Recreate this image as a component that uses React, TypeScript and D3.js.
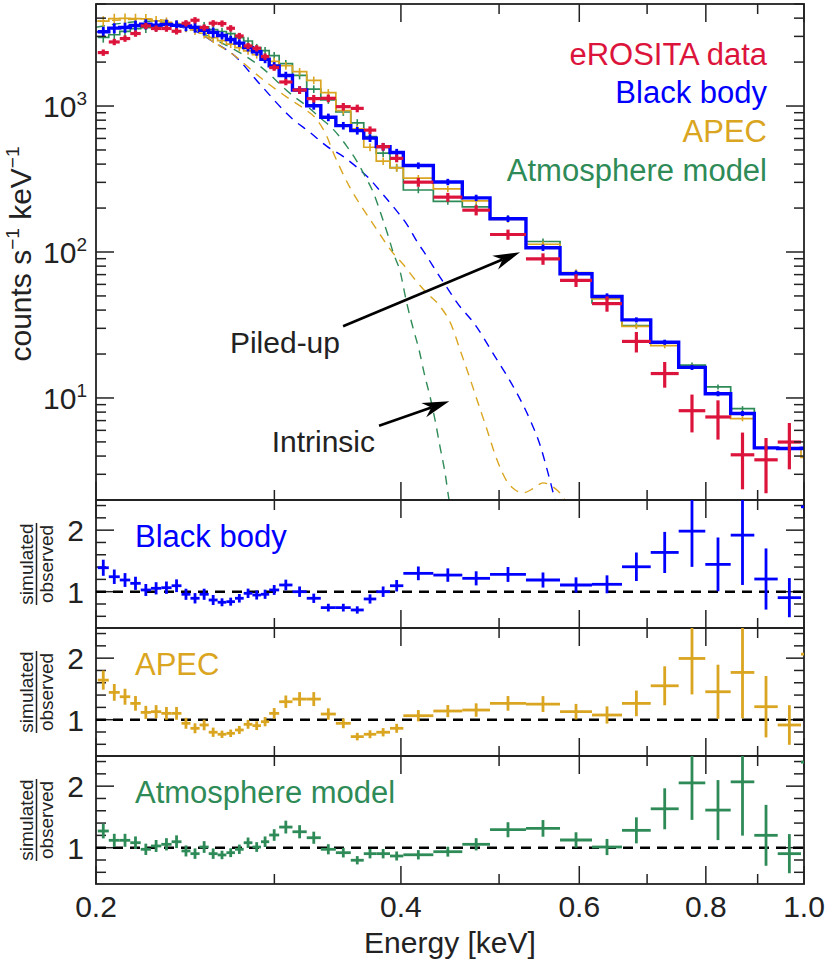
import React, { useEffect, useRef } from 'react';
import * as d3 from 'd3';

// energy bin edges in keV (43 bins, the last one runs past 1 keV and is clipped)
const binEdges = [0.2008, 0.2059, 0.2111, 0.2162, 0.2214, 0.2266, 0.2320, 0.2375, 0.2429, 0.2479, 0.2531, 0.2584, 0.2637, 0.2690, 0.2743, 0.2798, 0.2854, 0.2910, 0.2965, 0.3033, 0.3126, 0.3229, 0.3334, 0.3450, 0.3569, 0.3676, 0.3782, 0.3902, 0.4022, 0.4306, 0.4599, 0.4898, 0.5315, 0.5743, 0.6176, 0.6612, 0.7058, 0.7521, 0.7990, 0.8465, 0.8932, 0.9420, 0.9932, 1.0513];

// eROSITA counts s^-1 keV^-1 and relative errors
const observed = [2323, 2748, 2899, 3138, 3538, 3396, 3396, 3253, 3692, 3871, 3450, 3692, 3674, 3411, 3020, 2580, 2487, 2182, 1834, 1461, 1287, 1124, 1130, 990, 964, 684, 527, 438, 301, 237.6, 193.5, 131.8, 89.8, 64.0, 44.3, 24.4, 14.7, 8.18, 7.41, 4.08, 3.77, 4.99, 1.9];
const obsErr = [0.05, 0.05, 0.05, 0.05, 0.05, 0.05, 0.05, 0.05, 0.05, 0.05, 0.05, 0.05, 0.05, 0.05, 0.05, 0.05, 0.05, 0.05, 0.05, 0.05, 0.06, 0.06, 0.06, 0.06, 0.06, 0.06, 0.06, 0.06, 0.07, 0.07, 0.08, 0.08, 0.09, 0.10, 0.12, 0.16, 0.20, 0.29, 0.30, 0.42, 0.41, 0.35, 0.45];

// simulated (piled-up) spectra
const bbModel = [3227, 3416, 3450, 3565, 3637, 3583, 3617, 3569, 3537, 3457, 3305, 3194, 3042, 2858, 2697, 2513, 2353, 2090, 1885, 1620, 1287, 1004, 837, 734, 678, 603, 527, 480, 391, 302, 235, 169, 107, 71.0, 49.6, 34.3, 24.1, 16.2, 10.7, 7.83, 4.55, 4.51, 4.52];
const apecModel = [3817, 3968, 3980, 3970, 3959, 3837, 3746, 3588, 3474, 3329, 3153, 2939, 2803, 2657, 2516, 2387, 2246, 2112, 2023, 1888, 1718, 1501, 1234, 932, 699, 522, 419, 377, 321, 271, 224, 167, 113, 72.3, 47.7, 30.9, 22.8, 16.3, 10.8, 7.21, 4.57, 4.56, 3.92];
const atmModel = [2953, 3078, 3247, 3392, 3446, 3491, 3583, 3569, 3496, 3496, 3488, 3334, 3240, 3135, 2941, 2789, 2514, 2394, 2212, 1950, 1620, 1306, 1101, 910, 767, 618, 476, 379, 266, 222, 204, 170, 118, 72.0, 44.8, 31.3, 24.0, 16.8, 11.9, 8.45, 4.53, 4.51, 4.54];
const simErr = [0.08, 0.08, 0.08, 0.08, 0.08, 0.08, 0.08, 0.08, 0.08, 0.08, 0.08, 0.08, 0.06, 0.06, 0.06, 0.06, 0.06, 0.06, 0.06, 0.06, 0.06, 0.06, 0.06, 0.06, 0.06, 0.06, 0.06, 0.06, 0.05, 0.05, 0.05, 0.05, 0.05, 0.05, 0.05, 0.04, 0.04, 0.04, 0.04, 0.04, 0.04, 0.04, 0.04];

// simulated / observed
const bbRatio = [1.389, 1.243, 1.190, 1.136, 1.028, 1.055, 1.065, 1.097, 0.958, 0.893, 0.958, 0.865, 0.828, 0.838, 0.893, 0.974, 0.946, 0.958, 1.028, 1.109, 1.000, 0.893, 0.741, 0.741, 0.703, 0.882, 1.000, 1.097, 1.298, 1.270, 1.217, 1.280, 1.190, 1.109, 1.120, 1.405, 1.638, 1.984, 1.444, 1.919, 1.206, 0.903, 2.380];
const apecRatio = [1.643, 1.444, 1.373, 1.265, 1.119, 1.130, 1.103, 1.103, 0.941, 0.860, 0.914, 0.796, 0.763, 0.779, 0.833, 0.925, 0.903, 0.968, 1.103, 1.292, 1.335, 1.335, 1.092, 0.941, 0.725, 0.763, 0.796, 0.860, 1.065, 1.141, 1.157, 1.265, 1.254, 1.130, 1.076, 1.265, 1.551, 1.995, 1.454, 1.768, 1.211, 0.914, 2.065];
const atmRatio = [1.271, 1.120, 1.120, 1.081, 0.974, 1.028, 1.055, 1.097, 0.947, 0.903, 1.011, 0.903, 0.882, 0.919, 0.974, 1.081, 1.011, 1.097, 1.206, 1.335, 1.259, 1.162, 0.974, 0.919, 0.796, 0.903, 0.903, 0.865, 0.885, 0.935, 1.055, 1.292, 1.314, 1.125, 1.011, 1.282, 1.632, 2.053, 1.611, 2.070, 1.201, 0.903, 2.390];

// intrinsic (not piled-up) model curves
const bbIntrE = [0.200, 0.226, 0.248, 0.2615, 0.2737, 0.2904, 0.313, 0.3253, 0.3381, 0.3507, 0.362, 0.3729, 0.384, 0.3965, 0.4056, 0.4149, 0.4244, 0.4342, 0.4442, 0.4544, 0.4734, 0.4954, 0.5184, 0.5364, 0.5487, 0.5588, 0.5678, 0.5808];
const bbIntrV = [3203, 3634, 3358, 2735, 2227, 1409, 810, 660, 529, 452, 380, 314, 248, 190, 154, 118, 93.1, 72.3, 57.1, 45.0, 31.8, 19.2, 11.4, 7.10, 4.78, 3.07, 2.01, 1.25];
const apecIntrE = [0.200, 0.226, 0.248, 0.2615, 0.2737, 0.2904, 0.3108, 0.3216, 0.3303, 0.3379, 0.3430, 0.3496, 0.3563, 0.3645, 0.3729, 0.3814, 0.3917, 0.4022, 0.4130, 0.4241, 0.4372, 0.4493, 0.4575, 0.4659, 0.4755, 0.4865, 0.4976, 0.5102, 0.5184, 0.5279, 0.5401, 0.5525, 0.5652, 0.5782, 0.5875];
const apecIntrV = [3810, 3933, 3465, 2735, 2227, 1573, 1112, 949, 810, 623, 479, 358, 276, 212, 167, 132, 101, 82.1, 64.8, 52.5, 42.5, 30.8, 21.4, 14.9, 9.73, 6.06, 3.77, 2.62, 2.35, 2.24, 2.39, 2.62, 2.46, 2.10, 1.71];
const atmIntrE = [0.200, 0.226, 0.248, 0.2615, 0.2737, 0.2904, 0.3132, 0.3229, 0.3328, 0.3430, 0.3536, 0.3618, 0.3686, 0.3757, 0.3829, 0.3887, 0.3931, 0.3992, 0.4053, 0.4111, 0.4168, 0.4225, 0.4274, 0.4322, 0.4372, 0.4422, 0.4462, 0.4523];
const atmIntrV = [3465, 3810, 3465, 2867, 2448, 1872, 1171, 1000, 833, 692, 532, 420, 331, 255, 176, 128, 98.7, 73.8, 44.8, 30.3, 21.4, 14.0, 10.2, 7.10, 4.63, 3.07, 2.01, 1.25];

const xTicks = [0.2, 0.3, 0.4, 0.5, 0.6, 0.7, 0.8, 0.9, 1.0];
const xLabelTicks = [0.2, 0.4, 0.6, 0.8, 1.0];
const xTickLabels = ['0.2', '0.4', '0.6', '0.8', '1.0'];
const mainDecades = [1, 10, 100, 1000];
const ratioTicks = [0.6, 0.8, 1.0, 1.2, 1.4, 1.6, 1.8, 2.0, 2.2, 2.4];
const ratioLabelTicks = [1, 2];

const legendNames = ['eROSITA data', 'Black body', 'APEC', 'Atmosphere model'];

const RED = '#dc143c';
const BLUE = '#0000ff';
const GOLD = '#daa520';
const GREEN = '#2e8b57';
const INK = '#222';
const FONT = "'Liberation Sans', Arial, Helvetica, sans-serif";

const App: React.FC = () => {
    const ref = useRef<SVGSVGElement>(null);

    useEffect(() => {
        const svg = d3.select(ref.current);
        svg.selectAll('*').remove();

        const left = 96, right = 804;
        const mainTop = 4, mainBottom = 500;
        const resH = 128;
        const resTops = [500, 628, 756];

        const x = d3.scaleLog().domain([0.2, 1.0]).range([left, right]);
        const y = d3.scaleLog().domain([2, 5000]).range([mainBottom, mainTop]);

        const nBins = observed.length;
        const bins = d3.range(nBins).map(i => ({
            lo: binEdges[i],
            hi: binEdges[i + 1],
            mid: Math.sqrt(binEdges[i] * binEdges[i + 1]),
        }));

        const defs = svg.append('defs');
        const addClip = (id: string, y0: number, h: number) => {
            defs.append('clipPath').attr('id', id)
                .append('rect').attr('x', left).attr('y', y0).attr('width', right - left).attr('height', h);
        };
        addClip('clip-main', mainTop, mainBottom - mainTop);
        resTops.forEach((t, k) => addClip(`clip-res${k}`, t, resH));

        // ---------- main panel ----------
        const main = svg.append('g').attr('clip-path', 'url(#clip-main)');

        const curve = d3.line<[number, number]>()
            .x(d => x(d[0]))
            .y(d => y(d[1]))
            .curve(d3.curveMonotoneX);

        const dashed: [number[], number[], string][] = [
            [bbIntrE, bbIntrV, BLUE],
            [apecIntrE, apecIntrV, GOLD],
            [atmIntrE, atmIntrV, GREEN],
        ];
        dashed.forEach(([es, vs, c]) => {
            main.append('path')
                .attr('d', curve(es.map((e, i) => [e, vs[i]] as [number, number])))
                .attr('fill', 'none')
                .attr('stroke', c)
                .attr('stroke-width', 1.4)
                .attr('stroke-dasharray', '9,7');
        });

        const stepLine = d3.line<[number, number]>().x(d => x(d[0])).y(d => y(d[1]));
        const drawModel = (vals: number[], c: string, w: number, tickW: number) => {
            const pts: [number, number][] = [];
            bins.forEach((b, i) => { pts.push([b.lo, vals[i]]); pts.push([b.hi, vals[i]]); });
            main.append('path')
                .attr('d', stepLine(pts))
                .attr('fill', 'none')
                .attr('stroke', c)
                .attr('stroke-width', w)
                .attr('stroke-linejoin', 'miter');
            main.append('g').selectAll('line')
                .data(bins)
                .enter()
                .append('line')
                .attr('x1', d => x(d.mid))
                .attr('x2', d => x(d.mid))
                .attr('y1', (_, i) => y(vals[i] * (1 - simErr[i])))
                .attr('y2', (_, i) => y(vals[i] * (1 + simErr[i])))
                .attr('stroke', c)
                .attr('stroke-width', tickW);
        };
        drawModel(atmModel, GREEN, 1.7, 1.6);
        drawModel(apecModel, GOLD, 1.7, 1.6);
        drawModel(bbModel, BLUE, 3.4, 2.8);

        // observed data
        const obsG = main.append('g').attr('stroke', RED).attr('stroke-width', 3.2);
        obsG.selectAll('line.h')
            .data(bins)
            .enter()
            .append('line')
            .attr('class', 'h')
            .attr('x1', d => x(d.lo))
            .attr('x2', d => x(d.hi))
            .attr('y1', (_, i) => y(observed[i]))
            .attr('y2', (_, i) => y(observed[i]));
        obsG.selectAll('line.v')
            .data(bins)
            .enter()
            .append('line')
            .attr('class', 'v')
            .attr('x1', d => x(d.mid))
            .attr('x2', d => x(d.mid))
            .attr('y1', (_, i) => y(observed[i] * (1 - obsErr[i])))
            .attr('y2', (_, i) => y(observed[i] * (1 + obsErr[i])));

        // ---------- axes helpers ----------
        const axes = svg.append('g').attr('stroke', INK).attr('fill', 'none');
        const drawXTicks = (top: number, bottom: number) => {
            xTicks.forEach(t => {
                const len = xLabelTicks.includes(t) ? 18 : 10;
                axes.append('line').attr('x1', x(t)).attr('x2', x(t)).attr('y1', top).attr('y2', top + len).attr('stroke-width', 1.5);
                axes.append('line').attr('x1', x(t)).attr('x2', x(t)).attr('y1', bottom - len).attr('y2', bottom).attr('stroke-width', 1.5);
            });
        };
        const drawYTick = (yy: number, len: number) => {
            axes.append('line').attr('x1', left).attr('x2', left + len).attr('y1', yy).attr('y2', yy).attr('stroke-width', 1.5);
            axes.append('line').attr('x1', right - len).attr('x2', right).attr('y1', yy).attr('y2', yy).attr('stroke-width', 1.5);
        };

        drawXTicks(mainTop, mainBottom);
        mainDecades.forEach(d => {
            d3.range(1, 10).forEach(m => {
                const v = d * m;
                if (v < 2 || v > 5000) return;
                drawYTick(y(v), m === 1 ? 18 : 10);
            });
        });

        const text = svg.append('g').attr('font-family', FONT).attr('fill', INK);

        // main y tick labels
        [10, 100, 1000].forEach(v => {
            const t = text.append('text')
                .attr('x', 87)
                .attr('y', y(v) + 11)
                .attr('text-anchor', 'end')
                .attr('font-size', 30);
            t.append('tspan').text('10');
            t.append('tspan').attr('font-size', 19).attr('dy', -12).text(String(Math.round(Math.log10(v))));
        });

        // y label
        const yl = text.append('text')
            .attr('transform', 'translate(31,254) rotate(-90)')
            .attr('text-anchor', 'middle')
            .attr('font-size', 30);
        yl.append('tspan').text('counts s');
        yl.append('tspan').attr('font-size', 19).attr('dy', -12).text('\u22121');
        yl.append('tspan').attr('dy', 12).text(' keV');
        yl.append('tspan').attr('font-size', 19).attr('dy', -12).text('\u22121');

        // legend
        const legendColors = [RED, BLUE, GOLD, GREEN];
        const legendY = [65, 103, 142, 181];
        legendNames.forEach((n, i) => {
            text.append('text')
                .attr('x', 767)
                .attr('y', legendY[i])
                .attr('text-anchor', 'end')
                .attr('font-size', 31)
                .attr('fill', legendColors[i])
                .text(n);
        });

        // annotations
        const arrow = (e0: number, v0: number, e1: number, v1: number) => {
            const x0 = x(e0), y0 = y(v0), x1 = x(e1), y1 = y(v1);
            const ang = Math.atan2(y1 - y0, x1 - x0);
            const ux = Math.cos(ang), uy = Math.sin(ang);
            const px = -uy, py = ux;
            const L = 27, Wd = 7.5, notch = 19;
            const bx = x1 - ux * L, by = y1 - uy * L;
            const nx = x1 - ux * notch, ny = y1 - uy * notch;
            svg.append('line')
                .attr('x1', x0).attr('y1', y0).attr('x2', nx).attr('y2', ny)
                .attr('stroke', '#000').attr('stroke-width', 2.6);
            svg.append('path')
                .attr('d', `M${x1},${y1}L${bx + px * Wd},${by + py * Wd}L${nx},${ny}L${bx - px * Wd},${by - py * Wd}Z`)
                .attr('fill', '#000');
        };
        arrow(0.3507, 31.0, 0.5244, 99.7);
        arrow(0.3806, 6.46, 0.4465, 9.48);
        text.append('text').attr('x', 340).attr('y', 353).attr('text-anchor', 'end').attr('font-size', 30).text('Piled-up');
        text.append('text').attr('x', 375).attr('y', 452).attr('text-anchor', 'end').attr('font-size', 30).text('Intrinsic');

        // ---------- residual panels ----------
        const resSets: [number[], string, string][] = [
            [bbRatio, BLUE, 'Black body'],
            [apecRatio, GOLD, 'APEC'],
            [atmRatio, GREEN, 'Atmosphere model'],
        ];
        resSets.forEach(([ratio, c, name], k) => {
            const top = resTops[k];
            const bottom = top + resH;
            const ry = d3.scaleLinear().domain([0.41, 2.49]).range([bottom, top]);
            const g = svg.append('g').attr('clip-path', `url(#clip-res${k})`);

            g.append('line')
                .attr('x1', left).attr('x2', right)
                .attr('y1', ry(1)).attr('y2', ry(1))
                .attr('stroke', '#000').attr('stroke-width', 2.6)
                .attr('stroke-dasharray', '10,7');

            const err = (i: number) => ratio[i] * Math.sqrt(obsErr[i] * obsErr[i] + simErr[i] * simErr[i]);
            const pg = g.append('g').attr('stroke', c).attr('stroke-width', 2.8);
            pg.selectAll('line.h')
                .data(bins)
                .enter()
                .append('line')
                .attr('class', 'h')
                .attr('x1', d => x(d.lo))
                .attr('x2', d => x(d.hi))
                .attr('y1', (_, i) => ry(ratio[i]))
                .attr('y2', (_, i) => ry(ratio[i]));
            pg.selectAll('line.v')
                .data(bins)
                .enter()
                .append('line')
                .attr('class', 'v')
                .attr('x1', d => x(d.mid))
                .attr('x2', d => x(d.mid))
                .attr('y1', (_, i) => ry(ratio[i] - err(i)))
                .attr('y2', (_, i) => ry(ratio[i] + err(i)));

            drawXTicks(top, bottom);
            ratioTicks.forEach(t => drawYTick(ry(t), ratioLabelTicks.includes(t) ? 18 : 10));

            ratioLabelTicks.forEach(t => {
                text.append('text')
                    .attr('x', 84)
                    .attr('y', ry(t) + 11)
                    .attr('text-anchor', 'end')
                    .attr('font-size', 30)
                    .text(String(t));
            });

            text.append('text')
                .attr('x', 135)
                .attr('y', top + 47)
                .attr('font-size', 31)
                .attr('fill', c)
                .text(name);

            const cy = top + 64;
            text.append('text')
                .attr('transform', `translate(33,${cy}) rotate(-90)`)
                .attr('text-anchor', 'middle')
                .attr('font-size', 19)
                .text('simulated');
            svg.append('line')
                .attr('x1', 36.5).attr('x2', 36.5)
                .attr('y1', cy - 41).attr('y2', cy + 41)
                .attr('stroke', INK).attr('stroke-width', 1.5);
            text.append('text')
                .attr('transform', `translate(53,${cy}) rotate(-90)`)
                .attr('text-anchor', 'middle')
                .attr('font-size', 19)
                .text('observed');
        });

        // frames
        axes.append('rect')
            .attr('x', left).attr('y', mainTop)
            .attr('width', right - left).attr('height', mainBottom - mainTop)
            .attr('stroke-width', 1.8);
        resTops.forEach(t => {
            axes.append('rect')
                .attr('x', left).attr('y', t)
                .attr('width', right - left).attr('height', resH)
                .attr('stroke-width', 1.8);
        });

        // x tick labels and title
        xLabelTicks.forEach((t, i) => {
            text.append('text')
                .attr('x', x(t))
                .attr('y', 917)
                .attr('text-anchor', 'middle')
                .attr('font-size', 30)
                .text(xTickLabels[i]);
        });
        text.append('text')
            .attr('x', 450)
            .attr('y', 953)
            .attr('text-anchor', 'middle')
            .attr('font-size', 30)
            .text('Energy [keV]');
    }, []);

    return (
        <svg
            ref={ref}
            width={830}
            height={961}
            style={{ position: 'absolute', left: 0, top: 0, background: '#fff' }}
        />
    );
};

export default App;
